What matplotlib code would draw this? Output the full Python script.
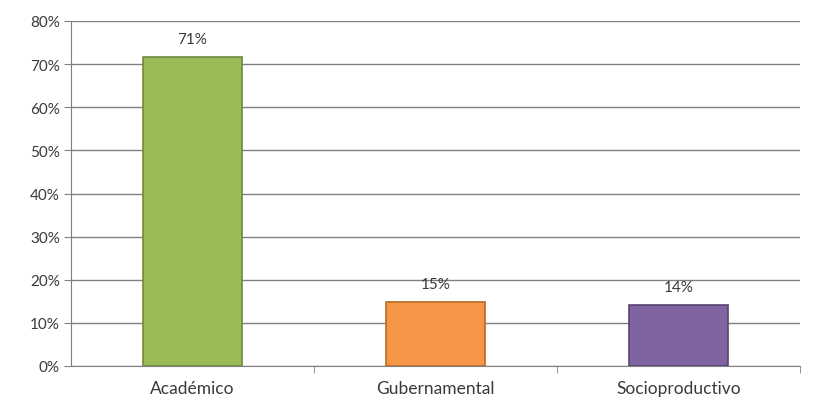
import matplotlib.pyplot as plt
import numpy as np

categories = ['Académico', 'Gubernamental', 'Socioproductivo']
values = [0.717, 0.148, 0.142]
labels = ['71%', '15%', '14%']
colors = ['#9bbb59', '#f79646', '#8064a2']
edges = ['#6f8a3a', '#b86a22', '#574470']

plt.rcParams['font.family'] = ['Lato', 'DejaVu Sans']

fig = plt.figure(figsize=(8.16, 4.02), dpi=100)
ax = fig.add_axes([71/816, 35/402, 729/816, 345/402])

x = np.arange(len(categories))
bars = ax.bar(x, values, width=0.41, color=colors, edgecolor=edges, linewidth=1.2, zorder=3)

for b, lab in zip(bars, labels):
    ax.text(b.get_x() + b.get_width()/2, b.get_height() + 0.025, lab,
            ha='center', va='bottom', fontsize=11, color='#3a3a3a', zorder=4)

ax.set_xlim(-0.5, 2.5)
ax.set_ylim(0, 0.8)
ax.set_yticks(np.arange(0, 0.81, 0.1))
ax.set_yticklabels([f'{int(round(v*100))}%' for v in np.arange(0, 0.81, 0.1)],
                   fontsize=11, color='#3a3a3a')
ax.yaxis.grid(True, color='#808080', linewidth=1, zorder=0)

ax.set_xticks(x)
ax.set_xticklabels(categories, fontsize=12.5, color='#3a3a3a')
ax.tick_params(axis='x', length=0, pad=10)
ax.set_xticks([0.5, 1.5, 2.5], minor=True)
ax.tick_params(axis='x', which='minor', length=5, color='#808080')
ax.tick_params(axis='y', length=5, color='#808080', pad=3)

for s in ['top', 'right']:
    ax.spines[s].set_visible(False)
for s in ['left', 'bottom']:
    ax.spines[s].set_color('#808080')

fig.savefig('out.png', dpi=100)
